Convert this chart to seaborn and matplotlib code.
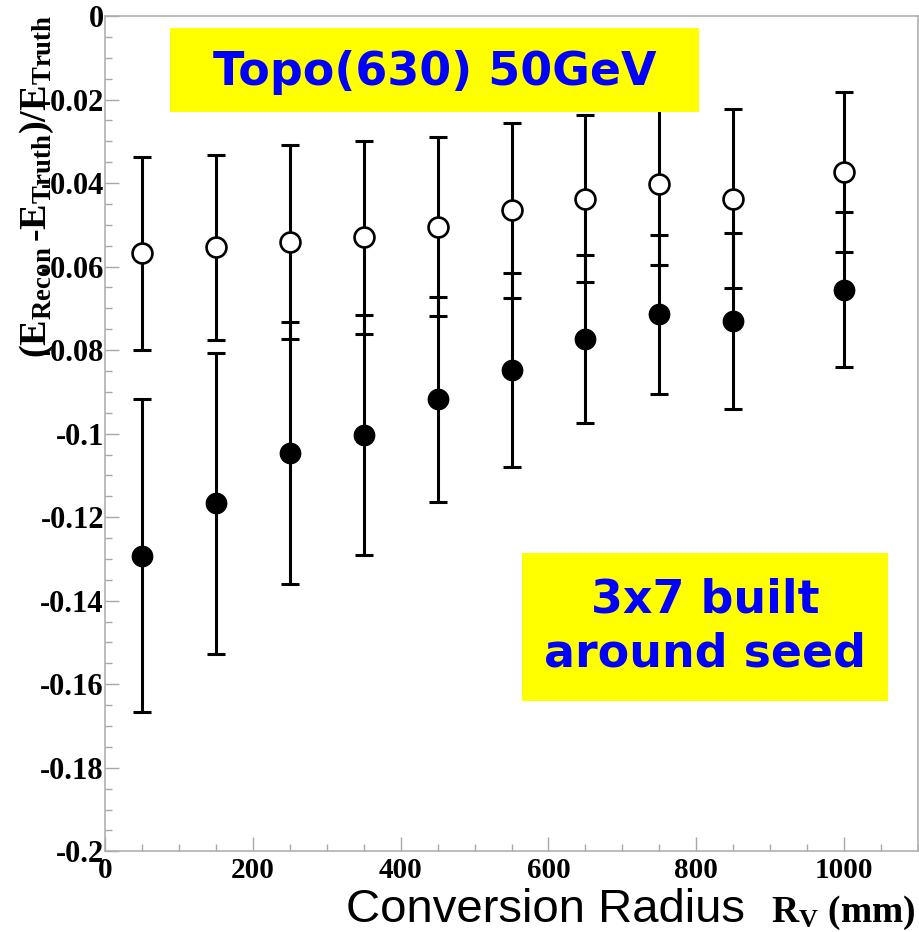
import matplotlib
matplotlib.use("Agg")
import matplotlib.pyplot as plt
from matplotlib.ticker import MultipleLocator, FixedLocator
from matplotlib.patches import Rectangle
import seaborn as sns
import pandas as pd

# Conversion radius bins (mm)
radius = [50, 150, 250, 350, 450, 550, 650, 750, 850, 1000]

# Open markers: mean relative energy bias and its spread
open_mean = [-0.0568, -0.0554, -0.0542, -0.0530, -0.0504, -0.0465, -0.0437, -0.0402, -0.0437, -0.0373]
open_err = [0.0231, 0.0222, 0.0232, 0.0231, 0.0215, 0.0210, 0.0200, 0.0193, 0.0214, 0.0191]

# Filled markers: mean relative energy bias and its spread
filled_mean = [-0.1292, -0.1167, -0.1047, -0.1003, -0.0918, -0.0848, -0.0773, -0.0714, -0.0730, -0.0655]
filled_err = [0.0375, 0.0360, 0.0314, 0.0287, 0.0246, 0.0232, 0.0201, 0.0190, 0.0210, 0.0186]

x_ticks = [0, 200, 400, 600, 800, 1000]
x_tick_labels = ["0", "200", "400", "600", "800", "1000"]
y_ticks = [0, -0.02, -0.04, -0.06, -0.08, -0.1, -0.12, -0.14, -0.16, -0.18, -0.2]
y_tick_labels = ["0", "-0.02", "-0.04", "-0.06", "-0.08", "-0.1", "-0.12", "-0.14", "-0.16", "-0.18", "-0.2"]

title_text = "Topo(630) 50GeV"
note_text = "3x7 built\naround seed"

sns.set_theme(style="white")
plt.rcParams["mathtext.fontset"] = "custom"
plt.rcParams["mathtext.rm"] = "Liberation Serif:bold"
plt.rcParams["mathtext.bf"] = "Liberation Serif:bold"
plt.rcParams["mathtext.it"] = "Liberation Serif:bold"

df_open = pd.DataFrame({"radius": radius, "mean": open_mean, "err": open_err})
df_filled = pd.DataFrame({"radius": radius, "mean": filled_mean, "err": filled_err})

fig = plt.figure(figsize=(9.19, 9.32), dpi=100)
fig.patch.set_facecolor("white")
ax = fig.add_axes([0.1146, 0.0866, 0.8840, 0.8962])
ax.set_facecolor("white")

for d in (df_filled, df_open):
    ax.errorbar(d["radius"], d["mean"], yerr=d["err"], fmt="none", ecolor="black",
                elinewidth=2.2, capsize=6.8, capthick=2.2, zorder=2)

sns.scatterplot(data=df_filled, x="radius", y="mean", ax=ax, s=215, color="black",
                edgecolor="black", linewidth=1.0, zorder=3, legend=False)
sns.scatterplot(data=df_open, x="radius", y="mean", ax=ax, s=205, facecolor="white",
                edgecolor="black", linewidth=1.9, zorder=3, legend=False)

ax.set_xlim(0, 1100)
ax.set_ylim(-0.2, 0)
ax.xaxis.set_major_locator(FixedLocator(x_ticks))
ax.set_xticklabels(x_tick_labels)
ax.xaxis.set_minor_locator(MultipleLocator(50))
ax.yaxis.set_major_locator(FixedLocator(y_ticks))
ax.set_yticklabels(y_tick_labels)
ax.yaxis.set_minor_locator(MultipleLocator(0.005))

for lab in ax.get_xticklabels():
    lab.set_fontfamily("Liberation Serif")
    lab.set_fontweight("bold")
    lab.set_fontsize(21)
    lab.set_color("black")
for lab in ax.get_yticklabels():
    lab.set_fontfamily("Liberation Serif")
    lab.set_fontweight("bold")
    lab.set_fontsize(22)
    lab.set_color("black")

ax.tick_params(which="major", direction="in", length=10, width=1.0, color="#a8a8a8")
ax.tick_params(which="minor", direction="in", length=5, width=1.0, color="#a8a8a8")
ax.tick_params(axis="y", which="both", left=True, right=False, pad=1)
ax.tick_params(axis="x", which="both", bottom=True, top=False, pad=4)

for sp in ax.spines.values():
    sp.set_color("#b0b0b0")
    sp.set_linewidth(1.2)

ax.set_xlabel("")
ax.set_ylabel("")

# Annotation boxes
fig.add_artist(Rectangle((0.185, 0.8798), 0.5756, 0.0902, transform=fig.transFigure,
                         facecolor="#ffff00", edgecolor="none", zorder=5))
fig.text(0.4728, 0.922, title_text, ha="center", va="center", color="#0000ff",
         fontsize=33, fontweight="bold", family="DejaVu Sans", zorder=6)

fig.add_artist(Rectangle((0.568, 0.2479), 0.398, 0.1588, transform=fig.transFigure,
                         facecolor="#ffff00", edgecolor="none", zorder=5))
fig.text(0.767, 0.327, note_text, ha="center", va="center", color="#0000ff",
         fontsize=33, fontweight="bold", family="DejaVu Sans", linespacing=1.25, zorder=6)

# Axis titles
fig.text(0.040, 0.800, r"$\mathbf{(E_{Recon}\,\text{-}E_{Truth})/E_{Truth}}$", rotation=90,
         ha="center", va="center", fontsize=27.5, color="black")
fig.text(0.811, 0.0107, "Conversion Radius", ha="right", va="baseline",
         fontsize=34, family="Liberation Sans", color="black")
fig.text(0.996, 0.0107, r"$\mathbf{R_V}$ (mm)", ha="right", va="baseline",
         fontsize=27, family="Liberation Serif", fontweight="bold", color="black")

fig.savefig("out.png", dpi=100)
